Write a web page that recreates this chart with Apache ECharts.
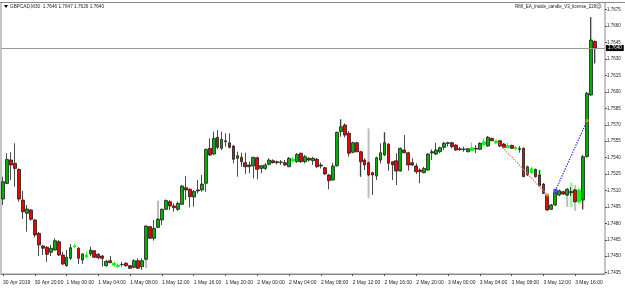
<!DOCTYPE html>
<html>
<head>
<meta charset="utf-8">
<script src="https://cdn.jsdelivr.net/npm/echarts@6/dist/echarts.min.js"></script>
<style>
  html, body { margin: 0; padding: 0; background: #fff; }
  #chart { width: 625px; height: 291px; }
</style>
</head>
<body>
<div id="chart"></div>
<script>
// GBPCAD M30, bars from 30 Apr 16:00 to 3 May 18:30
var opens = [1.75022,1.75165,1.75378,1.75348,1.75293,1.75013,1.74892,1.74922,1.74831,1.74709,
  1.74594,1.74582,1.74536,1.74557,1.74633,1.74511,1.74414,1.74481,1.74584,1.74573,
  1.74466,1.74493,1.74521,1.74551,1.74518,1.74502,1.74414,1.74459,1.74420,1.74406,
  1.74425,1.74436,1.74414,1.74399,1.74459,1.74405,1.74472,1.74770,1.74664,1.74764,
  1.74831,1.74928,1.74998,1.74959,1.74928,1.74974,1.75126,1.75111,1.75041,1.75105,
  1.75105,1.75166,1.75485,1.75433,1.75586,1.75485,1.75554,1.75536,1.75506,1.75394,
  1.75403,1.75354,1.75333,1.75324,1.75399,1.75302,1.75302,1.75339,1.75372,1.75363,
  1.75360,1.75354,1.75317,1.75369,1.75363,1.75440,1.75363,1.75394,1.75372,1.75385,
  1.75333,1.75308,1.75242,1.75196,1.75326,1.75637,1.75698,1.75622,1.75449,1.75536,
  1.75454,1.75378,1.75354,1.75263,1.75232,1.75378,1.75424,1.75524,1.75363,1.75372,
  1.75278,1.75470,1.75445,1.75354,1.75324,1.75287,1.75263,1.75287,1.75442,1.75433,
  1.75454,1.75494,1.75530,1.75536,1.75515,1.75481,1.75478,1.75454,1.75464,1.75485,
  1.75476,1.75520,1.75506,1.75576,1.75533,1.75554,1.75524,1.75490,1.75512,1.75480,
  1.75484,1.75485,1.75242,1.75260,1.75293,1.75242,1.75159,1.75059,1.74928,1.74968,
  1.75059,1.75089,1.75059,1.75080,1.75105,1.75000,1.75013,1.75409,1.75972,1.76460];
var highs = [1.75226,1.75440,1.75449,1.75531,1.75300,1.75096,1.74968,1.74931,1.74840,1.74721,
  1.74603,1.74594,1.74603,1.74664,1.74648,1.74542,1.74557,1.74612,1.74612,1.74584,
  1.74527,1.74542,1.74587,1.74557,1.74527,1.74511,1.74466,1.74502,1.74450,1.74436,
  1.74450,1.74445,1.74420,1.74472,1.74481,1.74481,1.74781,1.74776,1.74831,1.74849,
  1.74937,1.75018,1.75013,1.74983,1.74998,1.75150,1.75232,1.75120,1.75105,1.75196,
  1.75242,1.75483,1.75576,1.75637,1.75652,1.75637,1.75622,1.75622,1.75515,1.75454,
  1.75445,1.75445,1.75363,1.75409,1.75409,1.75333,1.75348,1.75394,1.75385,1.75372,
  1.75378,1.75378,1.75406,1.75409,1.75442,1.75445,1.75424,1.75403,1.75406,1.75397,
  1.75354,1.75317,1.75251,1.75354,1.75637,1.75750,1.75713,1.75643,1.75545,1.75545,
  1.75463,1.75394,1.75363,1.75272,1.75409,1.75531,1.75631,1.75531,1.75369,1.75440,
  1.75491,1.75606,1.75454,1.75394,1.75348,1.75302,1.75317,1.75440,1.75476,1.75536,
  1.75500,1.75545,1.75545,1.75545,1.75521,1.75497,1.75500,1.75488,1.75536,1.75515,
  1.75540,1.75576,1.75597,1.75582,1.75561,1.75561,1.75533,1.75536,1.75518,1.75506,
  1.75506,1.75494,1.75328,1.75317,1.75300,1.75287,1.75168,1.75068,1.74977,1.75086,
  1.75109,1.75098,1.75120,1.75130,1.75114,1.75120,1.75424,1.75999,1.76683,1.76470];
var lows = [1.74968,1.75159,1.75196,1.75135,1.74998,1.74840,1.74724,1.74826,1.74673,1.74502,
  1.74511,1.74450,1.74502,1.74551,1.74502,1.74420,1.74405,1.74466,1.74573,1.74429,
  1.74429,1.74481,1.74502,1.74484,1.74472,1.74405,1.74405,1.74436,1.74405,1.74390,
  1.74405,1.74405,1.74384,1.74390,1.74384,1.74375,1.74466,1.74657,1.74642,1.74758,
  1.74785,1.74922,1.74922,1.74906,1.74915,1.74968,1.75013,1.74947,1.74952,1.75074,
  1.75089,1.75089,1.75415,1.75424,1.75476,1.75470,1.75500,1.75485,1.75348,1.75226,
  1.75317,1.75251,1.75257,1.75211,1.75202,1.75257,1.75287,1.75330,1.75348,1.75339,
  1.75333,1.75324,1.75314,1.75354,1.75351,1.75351,1.75348,1.75363,1.75333,1.75308,
  1.75302,1.75242,1.75111,1.75190,1.75317,1.75591,1.75585,1.75409,1.75440,1.75449,
  1.75226,1.75287,1.75232,1.75059,1.75196,1.75348,1.75415,1.75281,1.75196,1.75150,
  1.75272,1.75440,1.75281,1.75324,1.75251,1.75166,1.75257,1.75281,1.75378,1.75424,
  1.75440,1.75470,1.75500,1.75485,1.75461,1.75463,1.75454,1.75448,1.75463,1.75440,
  1.75470,1.75506,1.75500,1.75551,1.75524,1.75497,1.75485,1.75485,1.75479,1.75464,
  1.75445,1.75223,1.75232,1.75251,1.75218,1.75138,1.75068,1.74913,1.74922,1.74959,
  1.75050,1.75059,1.75050,1.75050,1.74990,1.74983,1.74928,1.75402,1.75963,1.76260];
var closes = [1.75180,1.75384,1.75333,1.75302,1.75022,1.74906,1.74931,1.74837,1.74694,1.74603,
  1.74573,1.74518,1.74573,1.74642,1.74511,1.74429,1.74491,1.74578,1.74594,1.74481,
  1.74521,1.74511,1.74557,1.74491,1.74487,1.74481,1.74454,1.74441,1.74438,1.74420,
  1.74425,1.74414,1.74390,1.74459,1.74390,1.74459,1.74776,1.74664,1.74755,1.74837,
  1.74928,1.75008,1.74959,1.74943,1.74983,1.75141,1.75105,1.75044,1.75092,1.75096,
  1.75159,1.75476,1.75424,1.75576,1.75494,1.75567,1.75545,1.75494,1.75385,1.75418,
  1.75363,1.75317,1.75317,1.75403,1.75293,1.75326,1.75333,1.75378,1.75354,1.75354,
  1.75357,1.75333,1.75394,1.75387,1.75430,1.75363,1.75409,1.75378,1.75394,1.75317,
  1.75324,1.75251,1.75190,1.75324,1.75631,1.75682,1.75606,1.75440,1.75536,1.75454,
  1.75363,1.75333,1.75242,1.75242,1.75399,1.75445,1.75536,1.75348,1.75333,1.75278,
  1.75485,1.75445,1.75333,1.75333,1.75272,1.75272,1.75302,1.75433,1.75454,1.75470,
  1.75491,1.75531,1.75536,1.75500,1.75470,1.75473,1.75475,1.75481,1.75490,1.75478,
  1.75531,1.75545,1.75586,1.75554,1.75550,1.75506,1.75494,1.75510,1.75485,1.75495,
  1.75475,1.75226,1.75317,1.75300,1.75226,1.75144,1.75074,1.74922,1.74968,1.75080,
  1.75098,1.75068,1.75111,1.75090,1.74998,1.75100,1.75409,1.75987,1.76473,1.76400];

// bars drawn in lime by the indicator
var limeBars = [18, 21, 28, 29, 73, 118, 121, 124, 127, 129, 133, 145];
// indicator histogram ranges [bar, low, high]
var grayRanges = [[36, 1.74393, 1.74776], [39, 1.74758, 1.75007], [85, 1.75682, 1.75750],
  [90, 1.75226, 1.75363], [92, 1.75029, 1.75667], [96, 1.75536, 1.75631],
  [142, 1.74950, 1.75120], [144, 1.74915, 1.75150], [146, 1.74928, 1.75013],
  [148, 1.76473, 1.76683], [149, 1.76260, 1.76400]];
var paleRanges = [[143, 1.74949, 1.75171], [145, 1.74983, 1.75120], [135, 1.75242, 1.75290]];
var redLine = [[124, 1.75561], [137, 1.75059]];
var blueLine = [[139, 1.75098], [147, 1.75737]];
var orangeMarks = [[137, 1.75059], [147, 1.75737]];
var blueMarks = [[139, 1.75098]];

var xTickLabels = ['30 Apr 2019', '30 Apr 20:00', '1 May 00:00', '1 May 04:00', '1 May 08:00',
  '1 May 12:00', '1 May 16:00', '1 May 20:00', '2 May 00:00', '2 May 04:00', '2 May 08:00',
  '2 May 12:00', '2 May 16:00', '2 May 20:00', '3 May 00:00', '3 May 04:00', '3 May 08:00',
  '3 May 12:00', '3 May 16:00'];
var yTickLabels = ['1.7435', '1.7450', '1.7465', '1.7480', '1.7495', '1.7510', '1.7525', '1.7540',
  '1.7555', '1.7570', '1.7585', '1.7600', '1.7615', '1.7630', '1.7645', '1.7660', '1.7675'];
var bidPrice = 1.7640;
var emptySlots = 2; // chart shift on the right

var font = "'Liberation Sans', Arial, sans-serif";
var categories = [];
for (var i = 0; i < opens.length + emptySlots; i++) categories.push(String(i));

var candles = opens.map(function (o, i) {
  var item = {value: [o, closes[i], lows[i], highs[i]]};
  if (limeBars.indexOf(i) >= 0) {
    item.itemStyle = {color: '#00ff00', color0: '#00ff00', borderColor: '#00ff00', borderColor0: '#00ff00'};
  }
  return item;
});

function rangeBar(color, width) {
  return function (params, api) {
    var top = api.coord([api.value(0), api.value(2)]);
    var bottom = api.coord([api.value(0), api.value(1)]);
    return {
      type: 'rect',
      shape: {x: top[0] - width / 2, y: top[1], width: width, height: bottom[1] - top[1]},
      style: {fill: color}
    };
  };
}

var chart = echarts.init(document.getElementById('chart'));
chart.setOption({
  animation: false,
  backgroundColor: '#ffffff',
  grid: [
    {left: 1, right: 20, top: 2.5, bottom: 17, show: true, borderColor: '#8a8a8a', borderWidth: 1},
    {left: 1, right: 20, top: 9.7, bottom: 18.3}
  ],
  xAxis: [{
    type: 'category',
    data: categories,
    boundaryGap: true,
    axisLine: {lineStyle: {color: '#8a8a8a'}},
    axisTick: {show: true, interval: 7, alignWithLabel: true, length: 2, lineStyle: {color: '#555'}},
    axisLabel: {
      interval: 7, align: 'left', margin: 6, fontSize: 5, color: '#222', fontFamily: font,
      showMinLabel: true, hideOverlap: false,
      formatter: function (v, idx) { return idx % 8 === 0 ? (xTickLabels[idx / 8] || '') : ''; }
    },
    splitLine: {show: false}
  }, {
    type: 'category', gridIndex: 1, show: false, data: ['']
  }],
  yAxis: [{
    type: 'value',
    min: 1.74338,
    max: 1.76816,
    position: 'right',
    axisLine: {show: false},
    axisTick: {show: false},
    axisLabel: {show: false},
    splitLine: {show: false}
  }, {
    type: 'category',
    gridIndex: 1,
    data: yTickLabels,
    boundaryGap: false,
    position: 'right',
    axisLine: {show: false},
    axisTick: {show: true, length: 2, lineStyle: {color: '#555'}},
    axisLabel: {interval: 0, margin: 2, fontSize: 4.5, color: '#222', fontFamily: font},
    splitLine: {show: false}
  }],
  series: [{
    type: 'custom',
    renderItem: rangeBar('#bdbdbd', 2),
    encode: {x: 0, y: [1, 2]},
    data: grayRanges,
    z: 1
  }, {
    type: 'custom',
    renderItem: rangeBar('#a6f2a6', 3),
    encode: {x: 0, y: [1, 2]},
    data: paleRanges,
    z: 1
  }, {
    type: 'candlestick',
    data: candles,
    barWidth: 3.3,
    itemStyle: {
      color: '#00b000',
      color0: '#f00000',
      borderColor: '#1e1e1e',
      borderColor0: '#1e1e1e',
      borderWidth: 0.8
    },
    z: 2
  }, {
    type: 'line',
    data: redLine,
    symbol: 'none',
    lineStyle: {color: '#ff6a6a', width: 1.3, type: 'dotted'},
    markLine: {
      silent: true,
      symbol: 'none',
      precision: 4,
      lineStyle: {color: '#9a9a9a', type: 'solid', width: 1},
      label: {
        position: 'end', distance: 1, formatter: bidPrice.toFixed(4),
        color: '#fff', backgroundColor: '#000', padding: [1, 2, 0, 2],
        fontSize: 4.5, fontFamily: font
      },
      data: [{yAxis: bidPrice}]
    },
    z: 3
  }, {
    type: 'line',
    data: blueLine,
    symbol: 'none',
    lineStyle: {color: '#2a2aff', width: 1.3, type: 'dotted'},
    z: 3
  }, {
    type: 'scatter',
    data: orangeMarks,
    symbol: 'rect',
    symbolSize: 3,
    itemStyle: {color: '#f0a030'},
    z: 4
  }, {
    type: 'scatter',
    data: blueMarks,
    symbol: 'rect',
    symbolSize: 4,
    itemStyle: {color: '#2a2aff'},
    z: 4
  }],
  graphic: [
    {type: 'line', shape: {x1: 0, y1: 2.5, x2: 625, y2: 2.5}, style: {stroke: '#8a8a8a', lineWidth: 1}},
    {type: 'polygon', shape: {points: [[4, 5], [8, 5], [6, 8]]}, style: {fill: '#000'}},
    {type: 'text', left: 10, top: 4,
      style: {text: 'GBPCAD,M30  1.7646 1.7647 1.7626 1.7640', fontSize: 4.7, fontFamily: font, fill: '#222'}},
    {type: 'text', left: 515, top: 4.5,
      style: {text: 'RMI_EA_inside_candle_V3_license_220', fontSize: 4.5, fontFamily: font, fill: '#222'}},
    {type: 'text', left: 596, top: 3.5,
      style: {text: '☺', fontSize: 5.5, fontFamily: 'DejaVu Sans', fill: '#222'}}
  ]
});
</script>
</body>
</html>
